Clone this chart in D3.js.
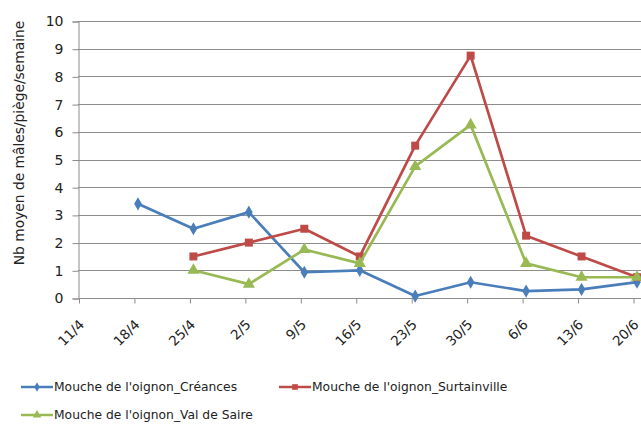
<!DOCTYPE html>
<html>
<head>
<meta charset="utf-8">
<script src="https://cdn.jsdelivr.net/npm/d3@7"></script>
<style>
  body { margin: 0; background: #fff; }
  text { font-family: "DejaVu Sans", Verdana, sans-serif; fill: #222; }
</style>
</head>
<body>
<div id="chart"></div>
<script>
// Week labels (day/month) and weekly catches
const weeks = ['11/4', '18/4', '25/4', '2/5', '9/5', '16/5', '23/5', '30/5', '6/6', '13/6', '20/6'];
const creances = [null, 3.4, 2.5, 3.1, 0.93, 1.0, 0.07, 0.57, 0.25, 0.31, 0.57];
const surtainville = [null, null, 1.5, 2.0, 2.5, 1.5, 5.5, 8.75, 2.25, 1.5, 0.75];
const valDeSaire = [null, null, 1.0, 0.5, 1.75, 1.25, 4.75, 6.25, 1.25, 0.75, 0.75];
const yTicks = [0, 1, 2, 3, 4, 5, 6, 7, 8, 9, 10];

const series = [
    { label: "Mouche de l'oignon_Créances", color: '#4A7EBB', symbol: d3.symbolDiamond, size: 50, values: creances },
    { label: "Mouche de l'oignon_Surtainville", color: '#BE4B48', symbol: d3.symbolSquare, size: 64, values: surtainville },
    { label: "Mouche de l'oignon_Val de Saire", color: '#98B954', symbol: d3.symbolTriangle, size: 64, values: valDeSaire }
];

const W = 641, H = 429;
const svg = d3.select('#chart').append('svg')
    .attr('width', W)
    .attr('height', H);

// Weekly dates on a time axis; samples sit half a day after each tick
const parse = s => { const [d, m] = s.split('/').map(Number); return new Date(2013, m - 1, d); };
const dates = weeks.map(parse);
const x = d3.scaleTime()
    .domain(d3.extent(dates))
    .range([78.5, 633]);

const y = d3.scaleLinear()
    .domain([0, 10])
    .range([298, 21]);

// Grid lines
svg.append('g')
    .selectAll('line')
    .data(yTicks.slice(1))
    .enter()
    .append('line')
    .attr('x1', 78)
    .attr('x2', W)
    .attr('y1', d => Math.round(y(d)) + 0.5)
    .attr('y2', d => Math.round(y(d)) + 0.5)
    .style('stroke', '#8c8c8c')
    .style('stroke-width', 1);

// Y axis
const yAxis = svg.append('g')
    .attr('transform', 'translate(78.5,0.5)')
    .call(d3.axisLeft(y).tickValues(yTicks).tickSize(6).tickPadding(9).tickFormat(d3.format('d')));
yAxis.select('.domain').attr('stroke', '#8c8c8c');
yAxis.selectAll('.tick line').attr('stroke', '#8c8c8c');
yAxis.selectAll('text').style('font-size', '14px').style('fill', '#222');

// X axis
const xAxis = svg.append('g')
    .attr('transform', 'translate(0.5,298.5)')
    .call(d3.axisBottom(x).tickValues(dates).tickSize(5).tickSizeOuter(0).tickFormat((d, i) => weeks[i]));
xAxis.select('.domain').attr('stroke', '#8c8c8c').attr('d', `M78,0H${W}`);
xAxis.selectAll('.tick line').attr('stroke', '#8c8c8c');
xAxis.selectAll('text')
    .style('font-size', '13.5px')
    .style('fill', '#222')
    .style('text-anchor', 'end')
    .attr('x', -15)
    .attr('y', 23)
    .attr('dy', 0)
    .attr('transform', 'rotate(-45)');

// Y axis title
svg.append('text')
    .attr('transform', 'rotate(-90)')
    .attr('x', -143)
    .attr('y', 24)
    .style('text-anchor', 'middle')
    .style('font-size', '13.8px')
    .text('Nb moyen de mâles/piège/semaine');

// Lines and markers
const line = d3.line()
    .defined(d => d.v != null)
    .x(d => x(d.date) + 4)
    .y(d => y(d.v));

series.forEach(s => {
    const pts = s.values.map((v, i) => ({ date: dates[i], v }));
    svg.append('path')
        .datum(pts)
        .attr('d', line)
        .style('fill', 'none')
        .style('stroke', s.color)
        .style('stroke-width', 2.7)
        .style('stroke-linejoin', 'round');
    svg.append('g')
        .selectAll('path')
        .data(pts.filter(d => d.v != null))
        .enter()
        .append('path')
        .attr('d', d3.symbol().type(s.symbol).size(s.size))
        .attr('transform', d => `translate(${x(d.date) + 4},${y(d.v)})`)
        .style('fill', s.color);
});

// Legend
const legendPos = [[21, 387], [279, 387], [21, 415]];
const legend = svg.selectAll('.legend')
    .data(series)
    .enter()
    .append('g')
    .attr('class', 'legend')
    .attr('transform', (d, i) => `translate(${legendPos[i][0]},${legendPos[i][1]})`);

legend.append('line')
    .attr('x1', 0)
    .attr('x2', 32)
    .style('stroke', d => d.color)
    .style('stroke-width', 2.5);

legend.append('path')
    .attr('d', d => d3.symbol().type(d.symbol).size(d.size * 0.5)())
    .attr('transform', 'translate(16,0)')
    .style('fill', d => d.color);

legend.append('text')
    .attr('x', 33)
    .attr('dy', '.35em')
    .style('font-size', '12.3px')
    .text(d => d.label);
</script>
</body>
</html>
